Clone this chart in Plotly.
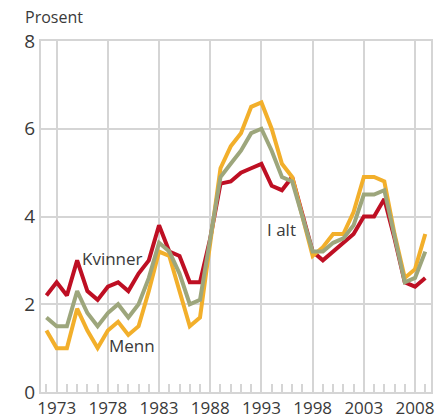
import plotly.graph_objects as go

years = list(range(1972, 2010))

kvinner = [2.2, 2.5, 2.2, 3.0, 2.3, 2.1, 2.4, 2.5, 2.3, 2.7, 3.0, 3.8, 3.2, 3.1, 2.5, 2.5,
           3.5, 4.75, 4.8, 5.0, 5.1, 5.2, 4.7, 4.6, 4.9, 4.05, 3.2, 3.0, 3.2, 3.4, 3.6, 4.0,
           4.0, 4.4, 3.5, 2.5, 2.4, 2.6]
menn = [1.4, 1.0, 1.0, 1.9, 1.4, 1.0, 1.4, 1.6, 1.3, 1.5, 2.3, 3.2, 3.1, 2.3, 1.5, 1.7,
        3.4, 5.1, 5.6, 5.9, 6.5, 6.6, 6.0, 5.2, 4.9, 4.0, 3.1, 3.3, 3.6, 3.6, 4.1, 4.9,
        4.9, 4.8, 3.6, 2.6, 2.8, 3.6]
i_alt = [1.7, 1.5, 1.5, 2.3, 1.8, 1.5, 1.8, 2.0, 1.7, 2.0, 2.6, 3.4, 3.2, 2.7, 2.0, 2.1,
         3.5, 4.9, 5.2, 5.5, 5.9, 6.0, 5.5, 4.9, 4.8, 4.0, 3.2, 3.2, 3.4, 3.5, 3.8, 4.5,
         4.5, 4.6, 3.5, 2.5, 2.6, 3.2]

tick_years = [1973, 1978, 1983, 1988, 1993, 1998, 2003, 2008]
y_ticks = [0, 2, 4, 6, 8]

RED = "#BE0F23"
ORANGE = "#F2AF2B"
GREEN = "#9DA67C"
GRID = "#D5D5D5"
TEXT = "#3A3A3A"
FONT = "Open Sans"

fig = go.Figure()
fig.add_trace(go.Scatter(x=years, y=kvinner, mode="lines", name="Kvinner",
                         line=dict(color=RED, width=4)))
fig.add_trace(go.Scatter(x=years, y=menn, mode="lines", name="Menn",
                         line=dict(color=ORANGE, width=4)))
fig.add_trace(go.Scatter(x=years, y=i_alt, mode="lines", name="I alt",
                         line=dict(color=GREEN, width=4)))

# page body has an 8px default margin, so the figure is sized/offset to compensate
fig.update_layout(
    template="none",
    width=439, height=420,
    margin=dict(l=33, r=16, t=33, b=36, autoexpand=False),
    paper_bgcolor="white", plot_bgcolor="white",
    showlegend=False,
    font=dict(family=FONT, size=17, color=TEXT),
)
fig.update_xaxes(
    automargin=False,
    range=[1971.47, 2009.56],
    tickvals=tick_years, ticktext=[str(y) for y in tick_years],
    showgrid=True, gridcolor=GRID, gridwidth=2,
    ticks="", ticklen=0,
    showline=True, linecolor=GRID, linewidth=2, mirror=True,
    zeroline=False,
    minor=dict(tickmode="linear", tick0=1972, dtick=1, ticks="inside",
               ticklen=8, tickwidth=2, tickcolor=GRID, showgrid=False),
    tickfont=dict(family=FONT, size=17, color=TEXT),
)
fig.update_yaxes(
    automargin=False,
    range=[0, 8], tickvals=y_ticks,
    showgrid=True, gridcolor=GRID, gridwidth=2,
    ticks="", showline=True, linecolor=GRID, linewidth=2, mirror=True,
    zeroline=False,
    tickfont=dict(family=FONT, size=19, color=TEXT),
)

fig.add_annotation(x=1978.5, y=3.05, xref="x", yref="y", text="Kvinner",
                   showarrow=False, font=dict(family=FONT, size=17, color=TEXT))
fig.add_annotation(x=1980.4, y=1.07, xref="x", yref="y", text="Menn",
                   showarrow=False, font=dict(family=FONT, size=17, color=TEXT))
fig.add_annotation(x=1995.0, y=3.71, xref="x", yref="y", text="I alt",
                   showarrow=False, font=dict(family=FONT, size=17, color=TEXT))
fig.add_annotation(x=-0.046, y=1.068, xref="paper", yref="paper", text="Prosent",
                   xanchor="left", yanchor="middle", showarrow=False,
                   font=dict(family=FONT, size=16, color=TEXT))

fig.write_html("out.html")
